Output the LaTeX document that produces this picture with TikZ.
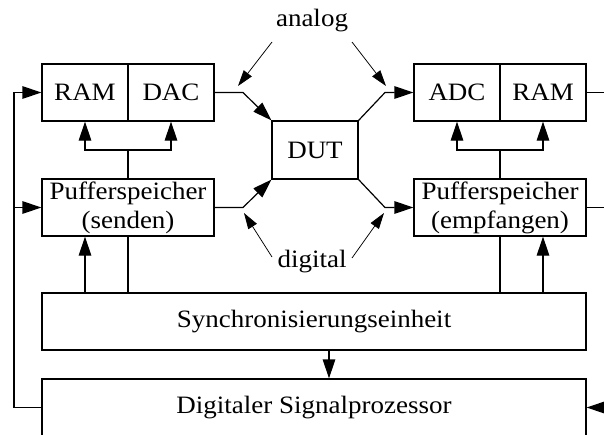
\documentclass[tikz,border=0pt]{standalone}
\usepackage{fontspec}
\setmainfont[FakeStretch=1.08]{Liberation Serif}
\usetikzlibrary{arrows.meta}
\begin{document}
\begin{tikzpicture}[x=1pt,y=-1pt,
  line width=1.2pt,
  every node/.style={font=\fontsize{25}{29}\selectfont},
  blk/.style={draw,rectangle,inner sep=0pt,align=center},
  half/.style={blk,minimum width=86pt,minimum height=57pt},
  wide/.style={blk,minimum width=172pt,minimum height=57pt},
  full/.style={blk,minimum width=544pt,minimum height=57pt},
  tip/.style={-{Triangle[length=19pt,width=12.5pt]}},
  note/.style={line width=0.75pt,-{Triangle[length=16pt,width=10pt]}},
  lbl/.style={inner sep=0pt}]
\useasboundingbox (0,0) rectangle (604,434);
\clip (0,0) rectangle (604,434);

% blocks
\node[half] (ramS) at (85,92.5) {RAM};
\node[half] (dac)  at (171,92.5) {DAC};
\node[half] (adc)  at (457,92.5) {ADC};
\node[half] (ramE) at (543,92.5) {RAM};
\node[blk,minimum width=86pt,minimum height=58pt] (dut) at (315,150) {DUT};
\node[wide] (pufS) at (128,207.5) {Pufferspeicher\\(senden)};
\node[wide] (pufE) at (500,207.5) {Pufferspeicher\\(empfangen)};
\node[full] (sync) at (314,321.5) {Synchronisierungseinheit};
\node[full] (dsp)  at (314,407.5) {Digitaler Signalprozessor};

% labels
\node[lbl] (analog)  at (312,21) {analog};
\node[lbl] (digital) at (312,262) {digital};

% junction points
\coordinate (jA) at (243,92.5);
\coordinate (jD) at (243,207.5);
\coordinate (jB) at (385,92.5);
\coordinate (jC) at (385,207.5);
\coordinate (busT) at (14,92.5);
\coordinate (busB) at (14,407.5);
\coordinate (outR) at (606,92.5);
\coordinate (outP) at (606,207.5);
\coordinate (inD)  at (606,407.5);
\coordinate (fbS) at (128,150);
\coordinate (fbE) at (500,150);

% signal paths around the DUT
\draw[tip] (dac.east) -- (jA) -- (dut.north west);
\draw[tip] (pufS.east) -- (jD) -- (dut.south west);
\draw[tip] (dut.north east) -- (jB) -- (adc.west);
\draw[tip] (dut.south east) -- (jC) -- (pufE.west);

% left bus from the signal processor
\draw[tip] (dsp.west) -- (busB) -- (busT) -- (ramS.west);
\draw[tip] (busB |- pufS.west) -- (pufS.west);

% right side lines
\draw (ramE.east) -- (outR);
\draw (pufE.east) -- (outP);
\draw[tip] (inD) -- (dsp.east);

% buffer to memory/converter
\draw (pufS.north) -- (fbS);
\draw[tip] (fbS) -| (ramS.south);
\draw[tip] (fbS) -| (dac.south);
\draw (pufE.north) -- (fbE);
\draw[tip] (fbE) -| (adc.south);
\draw[tip] (fbE) -| (ramE.south);

% synchronisation unit
\draw[tip] (sync.north -| ramS.south) -- (pufS.south -| ramS.south);
\draw (pufS.south) -- (pufS.south |- sync.north);
\draw (pufE.south) -- (pufE.south |- sync.north);
\draw[tip] (sync.north -| ramE.south) -- (pufE.south -| ramE.south);
\draw[tip] (sync.south -| 329,0) -- (dsp.north -| 329,0);

% annotation arrows
\draw[note] (272,42) -- (238,86);
\draw[note] (352,42) -- (386,86);
\draw[note] (272,257) -- (244,213);
\draw[note] (352,258) -- (384,213);
\end{tikzpicture}
\end{document}
